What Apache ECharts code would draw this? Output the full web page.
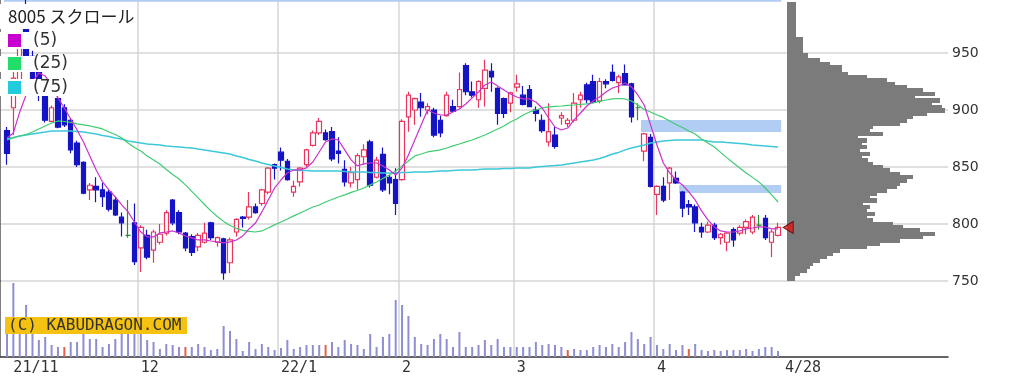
<!DOCTYPE html>
<html>
<head>
<meta charset="utf-8">
<script src="https://cdn.jsdelivr.net/npm/echarts@6/dist/echarts.min.js"></script>
<style>
  html, body { margin: 0; padding: 0; background: #fff; }
  #chart { width: 1010px; height: 376px; }
</style>
</head>
<body>
<div id="chart"></div>
<script>
// ===================== data =====================
const monthKeys = ['2021/10', '2021/11', '2021/12', '2022/01', '2022/02', '2022/03', '2022/04'];
const monthLabels = ['', '21/11', '12', '22/1', '2', '3', '4'];
const monthDays = [
  [29],
  [1, 2, 4, 5, 8, 9, 10, 11, 12, 15, 16, 17, 18, 19, 22, 24, 25, 26, 29, 30],
  [1, 2, 3, 6, 7, 8, 9, 10, 13, 14, 15, 16, 17, 20, 21, 22, 23, 24, 27, 28, 29, 30],
  [4, 5, 6, 7, 11, 12, 13, 14, 17, 18, 19, 20, 21, 24, 25, 26, 27, 28, 31],
  [1, 2, 3, 4, 7, 8, 9, 10, 14, 15, 16, 17, 18, 21, 22, 24, 25, 28],
  [1, 2, 3, 4, 7, 8, 9, 10, 11, 14, 15, 16, 17, 18, 22, 23, 24, 25, 28, 29, 30, 31],
  [1, 4, 5, 6, 7, 8, 11, 12, 13, 14, 15, 18, 19, 20, 21, 22, 25, 26, 27, 28]
];
const lastLabel = '4/28';

// [open, close, low, high]
const ohlc = [
  [882, 862, 852, 885], [902, 928, 878, 934], [925, 958, 918, 965], [978, 947, 940, 998], [947, 925, 920, 952],
  [934, 913, 908, 937], [913, 891, 889, 915], [890, 902, 889, 904], [910, 885, 884, 912], [902, 887, 885, 905],
  [891, 865, 862, 893], [871, 852, 850, 873], [854, 827, 826, 855], [830, 834, 821, 836], [833, 830, 819, 841],
  [830, 824, 815, 836], [828, 813, 811, 830], [821, 808, 807, 824], [806, 801, 789, 810], [790, 790, 788, 821],
  [801, 767, 764, 818], [779, 797, 758, 799], [790, 771, 769, 795], [777, 793, 766, 795], [784, 791, 782, 800],
  [792, 810, 790, 812], [821, 801, 799, 822], [810, 793, 791, 812], [792, 779, 776, 793], [789, 775, 772, 791],
  [780, 790, 776, 792], [784, 792, 783, 801], [801, 788, 786, 802], [784, 788, 780, 789], [787, 757, 751, 788],
  [766, 786, 757, 788], [793, 804, 789, 805], [806, 805, 797, 807], [806, 815, 804, 828], [815, 810, 809, 818],
  [818, 830, 816, 831], [828, 849, 826, 850], [852, 849, 839, 853], [863, 856, 847, 867], [855, 839, 838, 857],
  [828, 833, 824, 838], [837, 849, 833, 850], [852, 865, 850, 866], [869, 880, 868, 882], [880, 890, 878, 893],
  [880, 874, 873, 883], [881, 857, 855, 885], [864, 862, 853, 876], [848, 837, 833, 856], [836, 845, 832, 850],
  [839, 860, 830, 862], [859, 865, 852, 870], [872, 834, 832, 874], [841, 856, 840, 859], [861, 830, 828, 867],
  [841, 836, 826, 843], [839, 818, 808, 849], [839, 890, 838, 892], [894, 913, 881, 916], [900, 910, 887, 911],
  [907, 902, 894, 915], [900, 903, 896, 906], [900, 878, 876, 902], [891, 880, 876, 895], [895, 913, 894, 916],
  [903, 899, 898, 909], [903, 918, 902, 933], [939, 916, 913, 941], [916, 913, 911, 925], [909, 925, 902, 926],
  [919, 935, 903, 944], [934, 929, 916, 941], [919, 897, 887, 920], [910, 897, 893, 911], [906, 915, 898, 916],
  [920, 923, 916, 931], [913, 905, 904, 921], [918, 903, 903, 922], [900, 897, 890, 903], [891, 882, 880, 896],
  [872, 881, 868, 906], [878, 868, 866, 885], [893, 895, 887, 898], [888, 891, 885, 893], [891, 906, 889, 915],
  [909, 913, 902, 916], [922, 909, 906, 924], [925, 907, 906, 931], [908, 925, 906, 928], [925, 923, 919, 927],
  [933, 926, 925, 940], [924, 929, 915, 931], [932, 922, 922, 940], [923, 894, 889, 924], [902, 902, 891, 906],
  [864, 879, 855, 880], [876, 833, 832, 879], [826, 833, 808, 834], [833, 821, 819, 841], [836, 849, 821, 850],
  [840, 836, 835, 846], [828, 814, 806, 829], [817, 815, 808, 821], [815, 801, 793, 817], [797, 793, 788, 801],
  [793, 799, 792, 802], [799, 788, 786, 801], [788, 791, 782, 792], [784, 792, 776, 793], [795, 786, 780, 797],
  [792, 797, 790, 799], [797, 802, 791, 804], [793, 806, 791, 808], [799, 799, 795, 808], [805, 788, 786, 808],
  [784, 793, 771, 795], [790, 797, 789, 801]
];

const volume = [
  140, 370, 150, 260, 125, 85, 100, 60, 50, 50,
  75, 75, 115, 90, 90, 50, 65, 90, 120, 125,
  130, 120, 85, 75, 40, 65, 60, 50, 50, 50,
  65, 50, 35, 40, 155, 130, 90, 30, 75, 40,
  65, 50, 35, 45, 85, 40, 50, 60, 60, 60,
  60, 75, 50, 85, 65, 60, 40, 115, 50, 100,
  115, 285, 260, 205, 100, 65, 60, 90, 115, 90,
  50, 125, 50, 50, 60, 85, 60, 90, 50, 50,
  50, 50, 50, 75, 60, 65, 60, 50, 35, 40,
  35, 35, 50, 60, 50, 65, 50, 75, 125, 90,
  65, 100, 60, 40, 65, 35, 60, 40, 65, 35,
  30, 35, 30, 35, 35, 35, 40, 30, 40, 50,
  50, 30
];
const volumeRed = [9, 28, 50, 88, 107];

const ma5 = [
  875.5, 879.9, 898.3, 913.2, 924.6, 932.5, 929.9, 921.1, 910.6, 901.8,
  892.1, 882.5, 872.0, 859.7, 847.4, 836.9, 829.9, 823.7, 816.7, 810.6,
  801.8, 793.0, 788.7, 788.7, 792.2, 793.0, 793.9, 792.2, 789.5, 787.8,
  786.0, 786.0, 785.1, 784.3, 783.4, 784.3, 786.0, 789.5, 795.7, 800.9,
  810.6, 821.1, 831.6, 838.6, 844.8, 847.4, 847.4, 849.2, 854.4, 863.2,
  872.0, 874.6, 873.7, 865.0, 856.2, 850.9, 852.7, 853.5, 853.5, 850.9,
  847.4, 843.0, 849.2, 860.6, 873.7, 886.9, 900.0, 897.4, 895.6, 895.6,
  898.3, 900.9, 905.3, 910.6, 915.8, 922.0, 924.6, 921.1, 917.6, 914.1,
  911.4, 909.7, 909.7, 907.0, 901.8, 893.0, 885.1, 882.5, 884.2, 891.3,
  897.4, 903.5, 907.9, 911.4, 915.8, 919.3, 921.1, 923.7, 920.2, 913.2,
  904.4, 886.9, 869.3, 853.5, 844.8, 838.6, 834.3, 828.1, 821.1, 811.5,
  803.6, 797.4, 793.9, 793.0, 793.0, 793.9, 795.7, 796.5, 797.4, 797.4,
  795.7, 795.7
];
const ma25 = [
  873.7, 875.5, 877.2, 878.5, 880.7, 883.4, 886.0, 888.6, 890.4, 889.9,
  889.1, 887.8, 886.9, 886.0, 884.7, 883.4, 880.7, 878.5, 875.5, 871.1,
  867.1, 864.1, 859.7, 856.2, 852.7, 847.8, 843.5, 839.5, 834.3, 828.6,
  822.9, 817.1, 811.5, 806.6, 802.3, 798.7, 796.1, 794.4, 793.5, 793.0,
  793.9, 796.5, 799.2, 801.8, 804.4, 807.1, 809.7, 812.3, 814.9, 816.7,
  819.3, 821.5, 823.7, 825.5, 827.7, 829.4, 831.6, 834.3, 836.9, 840.0,
  843.0, 846.5, 850.9, 855.3, 859.7, 861.4, 863.2, 864.1, 865.0, 866.7,
  868.5, 870.2, 872.0, 873.7, 875.9, 878.1, 880.7, 883.4, 886.0, 889.5,
  892.1, 895.6, 898.3, 900.0, 901.8, 902.7, 903.1, 903.5, 904.0, 904.4,
  904.9, 905.3, 906.2, 907.5, 908.8, 909.7, 910.1, 909.7, 907.9, 904.4,
  900.5, 898.3, 895.6, 893.5, 890.4, 887.3, 884.7, 881.6, 879.0, 874.6,
  871.1, 867.6, 862.8, 858.0, 853.5, 849.2, 844.8, 840.9, 836.9, 831.6,
  825.5, 819.3
];
const ma75 = [
  874.6, 876.0, 877.2, 878.1, 879.0, 879.9, 880.7, 881.6, 881.6, 881.6,
  881.6, 881.2, 880.7, 879.9, 879.0, 877.7, 876.8, 875.5, 874.6, 872.8,
  872.0, 871.1, 870.2, 869.8, 869.3, 868.5, 868.0, 867.6, 867.1, 866.7,
  865.8, 865.0, 864.0, 863.2, 862.3, 861.4, 859.7, 858.4, 856.6, 855.3,
  853.5, 852.2, 850.9, 849.6, 848.3, 847.4, 847.0, 847.0, 846.5, 846.5,
  846.5, 846.5, 846.5, 846.1, 845.7, 845.7, 845.7, 845.2, 845.2, 844.8,
  844.8, 844.8, 845.2, 845.2, 845.7, 845.7, 845.7, 846.1, 846.5, 846.5,
  847.0, 847.4, 847.4, 847.4, 847.8, 848.3, 848.3, 848.3, 848.7, 848.7,
  849.2, 849.2, 849.2, 850.0, 850.5, 850.9, 851.3, 851.8, 852.7, 853.5,
  854.4, 855.3, 856.2, 857.5, 859.2, 861.4, 862.8, 865.0, 866.7, 868.0,
  869.3, 871.1, 872.0, 872.8, 873.3, 873.7, 873.7, 873.7, 873.7, 873.7,
  872.8, 872.0, 872.0, 871.5, 871.1, 870.7, 870.2, 869.3, 868.9, 868.5,
  868.0, 867.6
];

// price-by-volume rows: [price high, price low, volume]
const profileRows = [
  [995, 964.3, 9], [964.3, 949.7, 16], [949.7, 945.3, 21], [945.3, 942.4, 33], [942.4, 939.5, 43],
  [939.5, 933.6, 55], [933.6, 930.7, 61], [930.7, 927.8, 80], [927.8, 924.9, 100], [924.9, 921.9, 108],
  [921.9, 919, 120], [919, 916.1, 136], [916.1, 913.2, 148], [913.2, 910.2, 128], [910.2, 907.3, 153],
  [907.3, 904.4, 145], [904.4, 901.5, 155], [901.5, 898.5, 158], [898.5, 895.6, 140], [895.6, 892.7, 126],
  [892.7, 889.8, 120], [889.8, 886.8, 113], [886.8, 883.9, 86], [883.9, 881, 83], [881, 878.1, 96],
  [878.1, 875.1, 71], [875.1, 872.2, 80], [872.2, 869.3, 75], [869.3, 866.4, 80], [866.4, 863.5, 73],
  [863.5, 860.5, 83], [860.5, 857.6, 75], [857.6, 854.7, 81], [854.7, 851.8, 86], [851.8, 848.8, 96],
  [848.8, 845.9, 103], [845.9, 843, 113], [843, 840.1, 126], [840.1, 837.1, 120], [837.1, 834.2, 113],
  [834.2, 831.3, 110], [831.3, 828.4, 100], [828.4, 825.4, 90], [825.4, 822.5, 83], [822.5, 819.6, 90],
  [819.6, 816.7, 76], [816.7, 813.7, 83], [813.7, 810.8, 80], [810.8, 807.9, 88], [807.9, 805, 80],
  [805, 802, 86], [802, 799.1, 106], [799.1, 796.2, 116], [796.2, 793.3, 133], [793.3, 790.4, 148],
  [790.4, 787.4, 136], [787.4, 784.5, 113], [784.5, 781.6, 93], [781.6, 778.7, 80], [778.7, 775.7, 53],
  [775.7, 772.8, 46], [772.8, 769.9, 40], [769.9, 767, 33], [767, 764, 26], [764, 761.1, 23],
  [761.1, 758.2, 20], [758.2, 755.3, 13], [755.3, 749.4, 8]
];

// zones: [start index, low, high]
const zones = [[0, 995, 1000], [100, 880.7, 891.2], [106, 827.2, 834.2]];

const priceTicks = [750, 800, 850, 900, 950];
const priceMin = 750;
const priceMax = 996.5;

// ===================== build =====================
let dates = [];
let labelAt = {};
monthKeys.forEach(function (ym, m) {
  monthDays[m].forEach(function (d, k) {
    if (k === 0 && monthLabels[m]) {
      labelAt[dates.length] = monthLabels[m];
    }
    dates.push(ym + '/' + (d < 10 ? '0' + d : d));
  });
});
const lastIdx = dates.length - 1;
labelAt[lastIdx] = lastLabel;
const monthStart = function (i) {
  return labelAt[i] !== undefined && i !== lastIdx;
};

const gridLine = {color: '#d6d6d6', width: 1.5};
const axisDark = '#555';

let volData = volume.map(function (v, i) {
  return volumeRed.indexOf(i) >= 0 ? {value: v, itemStyle: {color: '#e0604c'}} : v;
});

const chart = echarts.init(document.getElementById('chart'));
let option = {
  animation: false,
  backgroundColor: '#fff',
  grid: [
    {left: 3.8, top: 0, width: 777.4, height: 281},   // candles
    {left: 3.8, top: 281, width: 777.4, height: 76},  // volume
    {left: 0, top: 0, width: 948, height: 281},       // price frame
    {left: 787, top: 0, width: 161, height: 281},     // profile
    {left: 0, top: 281, width: 948, height: 76}       // volume frame
  ],
  xAxis: [
    {
      type: 'category', gridIndex: 0, data: dates, boundaryGap: true,
      axisLine: {show: false}, axisTick: {show: false}, axisLabel: {show: false},
      splitLine: {show: true, interval: monthStart, showMinLine: false, showMaxLine: false, lineStyle: gridLine}
    },
    {
      type: 'category', gridIndex: 1, data: dates, boundaryGap: true,
      axisLine: {show: false}, axisTick: {show: false},
      splitLine: {show: true, interval: monthStart, showMinLine: false, showMaxLine: false, lineStyle: gridLine},
      axisLabel: {
        interval: function (i) { return labelAt[i] !== undefined; },
        formatter: function (v, i) {
          return i === lastIdx ? '{pad|' + labelAt[i] + '}' : labelAt[i];
        },
        align: 'left', margin: 4, color: '#333',
        fontFamily: 'DejaVu Sans Mono', fontSize: 15,
        rich: {pad: {padding: [0, 0, 0, 7], color: '#333', fontFamily: 'DejaVu Sans Mono', fontSize: 15}}
      }
    },
    {type: 'value', gridIndex: 2, min: 0, max: 1, show: false},
    {type: 'value', gridIndex: 3, min: 0, max: 161, show: false},
    {
      type: 'value', gridIndex: 4, min: 0, max: 1,
      axisLine: {show: true, lineStyle: {color: '#333', width: 1.5}},
      axisTick: {show: false}, axisLabel: {show: false}, splitLine: {show: false}
    }
  ],
  yAxis: [
    {type: 'value', gridIndex: 0, min: priceMin, max: priceMax, show: false},
    {type: 'value', gridIndex: 1, min: 0, max: 380, show: false},
    {
      type: 'value', gridIndex: 2, position: 'right', min: priceMin, max: priceMax, interval: 50,
      axisLine: {show: true, lineStyle: {color: axisDark, width: 1.5}},
      axisTick: {show: true, inside: true, length: 6, lineStyle: {color: axisDark, width: 1.5}},
      axisLabel: {
        margin: 4, color: '#333', fontFamily: 'DejaVu Sans', fontSize: 14,
        formatter: function (v) { return priceTicks.indexOf(v) >= 0 ? String(v) : ''; }
      },
      splitLine: {show: true, showMaxLine: false, lineStyle: gridLine}
    },
    {type: 'value', gridIndex: 3, min: priceMin, max: priceMax, show: false},
    {
      type: 'value', gridIndex: 4, position: 'right', min: 0, max: 1,
      axisLine: {show: true, lineStyle: {color: axisDark, width: 1.5}},
      axisTick: {show: false}, axisLabel: {show: false}, splitLine: {show: false}
    }
  ],
  series: [
    {
      name: 'zones',
      type: 'custom',
      xAxisIndex: 0, yAxisIndex: 0,
      clip: true, z: 1, silent: true,
      data: zones,
      encode: {x: 0, y: [1, 2]},
      renderItem: function (params, api) {
        let hi = api.coord([api.value(0), api.value(2)]);
        let lo = api.coord([api.value(0), api.value(1)]);
        let band = api.size([1, 0])[0];
        let x0 = hi[0] - band / 2;
        let x1 = params.coordSys.x + params.coordSys.width;
        return {
          type: 'rect',
          shape: {x: x0, y: hi[1], width: x1 - x0, height: lo[1] - hi[1]},
          style: {fill: '#b2cdf3'}
        };
      }
    },
    {
      name: 'profile',
      type: 'custom',
      xAxisIndex: 3, yAxisIndex: 3,
      clip: true, z: 1, silent: true,
      data: profileRows,
      encode: {x: 2, y: [0, 1]},
      renderItem: function (params, api) {
        let hi = api.coord([api.value(2), api.value(0)]);
        let lo = api.coord([0, api.value(1)]);
        let y0 = Math.round(hi[1]);
        let y1 = Math.round(lo[1]);
        let x0 = Math.round(lo[0]);
        return {
          type: 'rect',
          shape: {x: x0, y: y0, width: Math.round(hi[0]) - x0, height: y1 - y0 + 1},
          style: {fill: '#7b7b7b'}
        };
      }
    },
    {
      name: '8005',
      type: 'candlestick',
      xAxisIndex: 0, yAxisIndex: 0,
      barWidth: 5,
      data: ohlc,
      itemStyle: {
        color: '#ffffff',
        color0: '#1414c4',
        borderColor: '#e8365e',
        borderColor0: '#1414c4',
        borderColorDoji: '#2e8a2e',
        borderWidth: 1.2
      }
    },
    {
      name: '(75)', type: 'line', xAxisIndex: 0, yAxisIndex: 0, data: ma75,
      showSymbol: false, silent: true, z: 3,
      lineStyle: {color: '#3cc8d8', width: 1.5}
    },
    {
      name: '(25)', type: 'line', xAxisIndex: 0, yAxisIndex: 0, data: ma25,
      showSymbol: false, silent: true, z: 3,
      lineStyle: {color: '#3fcc70', width: 1.2}
    },
    {
      name: '(5)', type: 'line', xAxisIndex: 0, yAxisIndex: 0, data: ma5,
      showSymbol: false, silent: true, z: 4,
      lineStyle: {color: '#cc30cc', width: 1.2}
    },
    {
      name: 'volume', type: 'bar', xAxisIndex: 1, yAxisIndex: 1,
      barWidth: 2, data: volData, silent: true,
      itemStyle: {color: '#8e8ed2'}
    },
    {
      name: 'last', type: 'scatter', xAxisIndex: 3, yAxisIndex: 3,
      data: [[1.2, ohlc[lastIdx][1]]],
      symbol: 'triangle', symbolSize: [12, 10], symbolRotate: 90, z: 10,
      itemStyle: {color: '#e01818', borderColor: '#5a0000', borderWidth: 1}
    }
  ],
  graphic: [
    {type: 'rect', z: 100, shape: {x: 0, y: 4, width: 136, height: 25}, style: {fill: '#fff'}},
    {type: 'text', z: 101, x: 8, y: 17, style: {text: '8005 スクロール', fill: '#222', font: '17px "Noto Sans CJK JP"', verticalAlign: 'middle'}},

    {type: 'rect', z: 100, shape: {x: 0, y: 32, width: 72, height: 17}, style: {fill: '#fff'}},
    {type: 'rect', z: 101, shape: {x: 8, y: 34, width: 13, height: 13}, style: {fill: '#c800d0'}},
    {type: 'text', z: 101, x: 33, y: 41, style: {text: '(5)', fill: '#333', font: '17px "DejaVu Sans"', verticalAlign: 'middle'}},

    {type: 'rect', z: 100, shape: {x: 0, y: 56, width: 72, height: 16}, style: {fill: '#fff'}},
    {type: 'rect', z: 101, shape: {x: 8, y: 57, width: 13, height: 13}, style: {fill: '#22dd6a'}},
    {type: 'text', z: 101, x: 33, y: 64, style: {text: '(25)', fill: '#333', font: '17px "DejaVu Sans"', verticalAlign: 'middle'}},

    {type: 'rect', z: 100, shape: {x: 0, y: 79, width: 72, height: 17}, style: {fill: '#fff'}},
    {type: 'rect', z: 101, shape: {x: 8, y: 81, width: 13, height: 13}, style: {fill: '#22ccdd'}},
    {type: 'text', z: 101, x: 33, y: 88, style: {text: '(75)', fill: '#333', font: '17px "DejaVu Sans"', verticalAlign: 'middle'}},

    {type: 'rect', z: 100, shape: {x: 5, y: 317, width: 182, height: 17}, style: {fill: '#f5c211'}},
    {type: 'text', z: 101, x: 8, y: 326, style: {text: '(C) KABUDRAGON.COM', fill: '#333', font: '16px "DejaVu Sans Mono"', verticalAlign: 'middle'}}
  ]
};
chart.setOption(option);
</script>
</body>
</html>
